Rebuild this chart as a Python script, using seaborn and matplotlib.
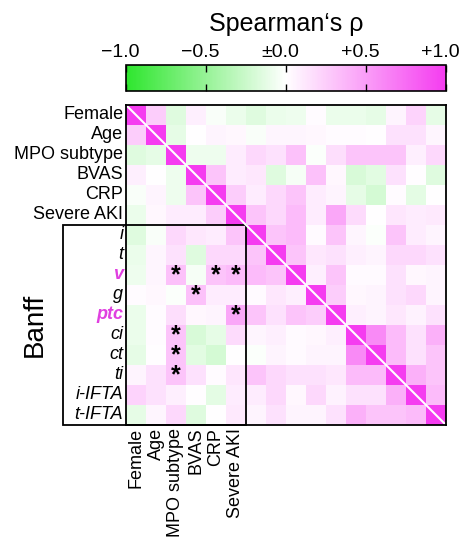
import numpy as np
import pandas as pd
import matplotlib
matplotlib.use("Agg")
import matplotlib.pyplot as plt
import seaborn as sns
from matplotlib.colors import LinearSegmentedColormap
from matplotlib.patches import Rectangle
from matplotlib.transforms import ScaledTranslation

# =========================
# DATA
# =========================
clinical = ["Female", "Age", "MPO subtype", "BVAS", "CRP", "Severe AKI"]
banff = ["i", "t", "v", "g", "ptc", "ci", "ct", "ti", "i-IFTA", "t-IFTA"]
labels = clinical + banff

# lower triangle of Spearman's rho (row i, cols 0..i-1)
lower = [
    [],
    [0.25],
    [-0.15, -0.12],
    [0.08, 0.00, -0.08],
    [-0.03, 0.06, -0.08, 0.30],
    [-0.10, 0.04, 0.10, 0.10, 0.25],
    [-0.15, -0.03, 0.20, 0.12, 0.10, 0.30],
    [-0.10, 0.05, 0.15, -0.15, 0.20, 0.20, 0.30],
    [-0.08, 0.05, 0.32, -0.04, 0.30, 0.35, 0.35, 0.30],
    [0.02, 0.04, -0.02, 0.32, 0.10, 0.10, 0.03, 0.12, 0.08],
    [-0.10, 0.02, 0.17, 0.04, 0.06, 0.45, 0.30, 0.15, 0.30, 0.25],
    [-0.10, 0.02, 0.30, -0.18, -0.12, 0.18, 0.05, 0.08, 0.03, 0.04, 0.08],
    [-0.12, 0.01, 0.30, -0.14, -0.21, 0.00, -0.02, 0.06, 0.03, 0.06, 0.06, 0.60],
    [0.06, 0.15, 0.30, 0.15, 0.02, 0.13, 0.30, 0.20, 0.15, 0.15, 0.12, 0.35, 0.35],
    [0.22, 0.15, 0.08, 0.01, -0.13, 0.10, 0.10, 0.20, 0.04, 0.20, 0.07, 0.15, 0.15, 0.40],
    [-0.12, 0.05, 0.20, -0.15, 0.00, 0.11, 0.06, 0.15, 0.06, 0.06, 0.15, 0.40, 0.30, 0.30, 0.35],
]

# significant cells (row label, column label)
significant = [("v", "MPO subtype"), ("v", "CRP"), ("v", "Severe AKI"),
               ("g", "BVAS"), ("ptc", "Severe AKI"),
               ("ci", "MPO subtype"), ("ct", "MPO subtype"), ("ti", "MPO subtype")]

cbar_ticks = [-1.0, -0.5, 0.0, 0.5, 1.0]
cbar_ticklabels = ["\u22121.0", "\u22120.5", "\u00b10.0", "+0.5", "+1.0"]

# =========================
# BUILD MATRIX
# =========================
n = len(labels)
rho = np.eye(n)
for i, row in enumerate(lower):
    for j, val in enumerate(row):
        rho[i, j] = val
        rho[j, i] = val
df = pd.DataFrame(rho, index=labels, columns=labels)

stars = pd.DataFrame("", index=labels, columns=labels)
for r, c in significant:
    stars.loc[r, c] = "*"

# =========================
# PLOT
# =========================
plt.rcParams["font.family"] = ["Liberation Sans", "DejaVu Sans"]

cmap = LinearSegmentedColormap.from_list("gwm", ["#2ee62e", "#ffffff", "#f53cf0"])

fig = plt.figure(figsize=(4.61, 5.40), dpi=100)
ax = fig.add_axes([0.2733, 0.2130, 0.6941, 0.5926])
cax = fig.add_axes([0.2733, 0.8315, 0.6941, 0.0481])

sns.heatmap(df, cmap=cmap, vmin=-1, vmax=1, ax=ax, cbar_ax=cax,
            cbar_kws={"orientation": "horizontal", "ticks": cbar_ticks},
            annot=stars.values, fmt="",
            annot_kws={"fontsize": 18, "color": "black", "fontweight": "bold"},
            xticklabels=True, yticklabels=True)

# white line along the diagonal
ax.plot([0, n], [0, n], color="white", lw=1.5)

# frames
for s in ax.spines.values():
    s.set_visible(True)
    s.set_linewidth(1.3)
ax.add_patch(Rectangle((-3.15, 6), 9.15, 10, fill=False, lw=1.3,
                       edgecolor="black", clip_on=False))

ax.tick_params(length=0, pad=2)
ax.set_xticks(np.arange(n) + 0.5)
ax.set_xticklabels(clinical + [""] * len(banff), rotation=90, fontsize=13)
ax.set_yticks(np.arange(n) + 0.5)
ax.set_yticklabels(labels, rotation=0, fontsize=13)
for k, t in enumerate(ax.get_yticklabels()):
    if k >= len(clinical):
        t.set_style("italic")
    if t.get_text() in ("v", "ptc"):
        t.set_color("#e040e0")
        t.set_fontweight("bold")
ax.set_xlabel("")
ax.set_ylabel("")

ax.text(-4.55, 11.0, "Banff", rotation=90, fontsize=20,
        ha="center", va="center")

# colorbar
cbar = ax.collections[0].colorbar
cbar.outline.set_linewidth(1.2)
cax.xaxis.set_ticks_position("both")
cax.tick_params(direction="in", length=5, width=1, top=True, bottom=True,
                labeltop=True, labelbottom=False, labelsize=14, pad=3)
cax.set_xticklabels(cbar_ticklabels)
shift = ScaledTranslation(-6 / 100, 0, fig.dpi_scale_trans)
for lbl in cax.get_xticklabels():
    lbl.set_transform(lbl.get_transform() + shift)
cax.set_title("Spearman\u2018s \u03c1", fontsize=18, pad=9)

fig.savefig("out.png", dpi=100)
